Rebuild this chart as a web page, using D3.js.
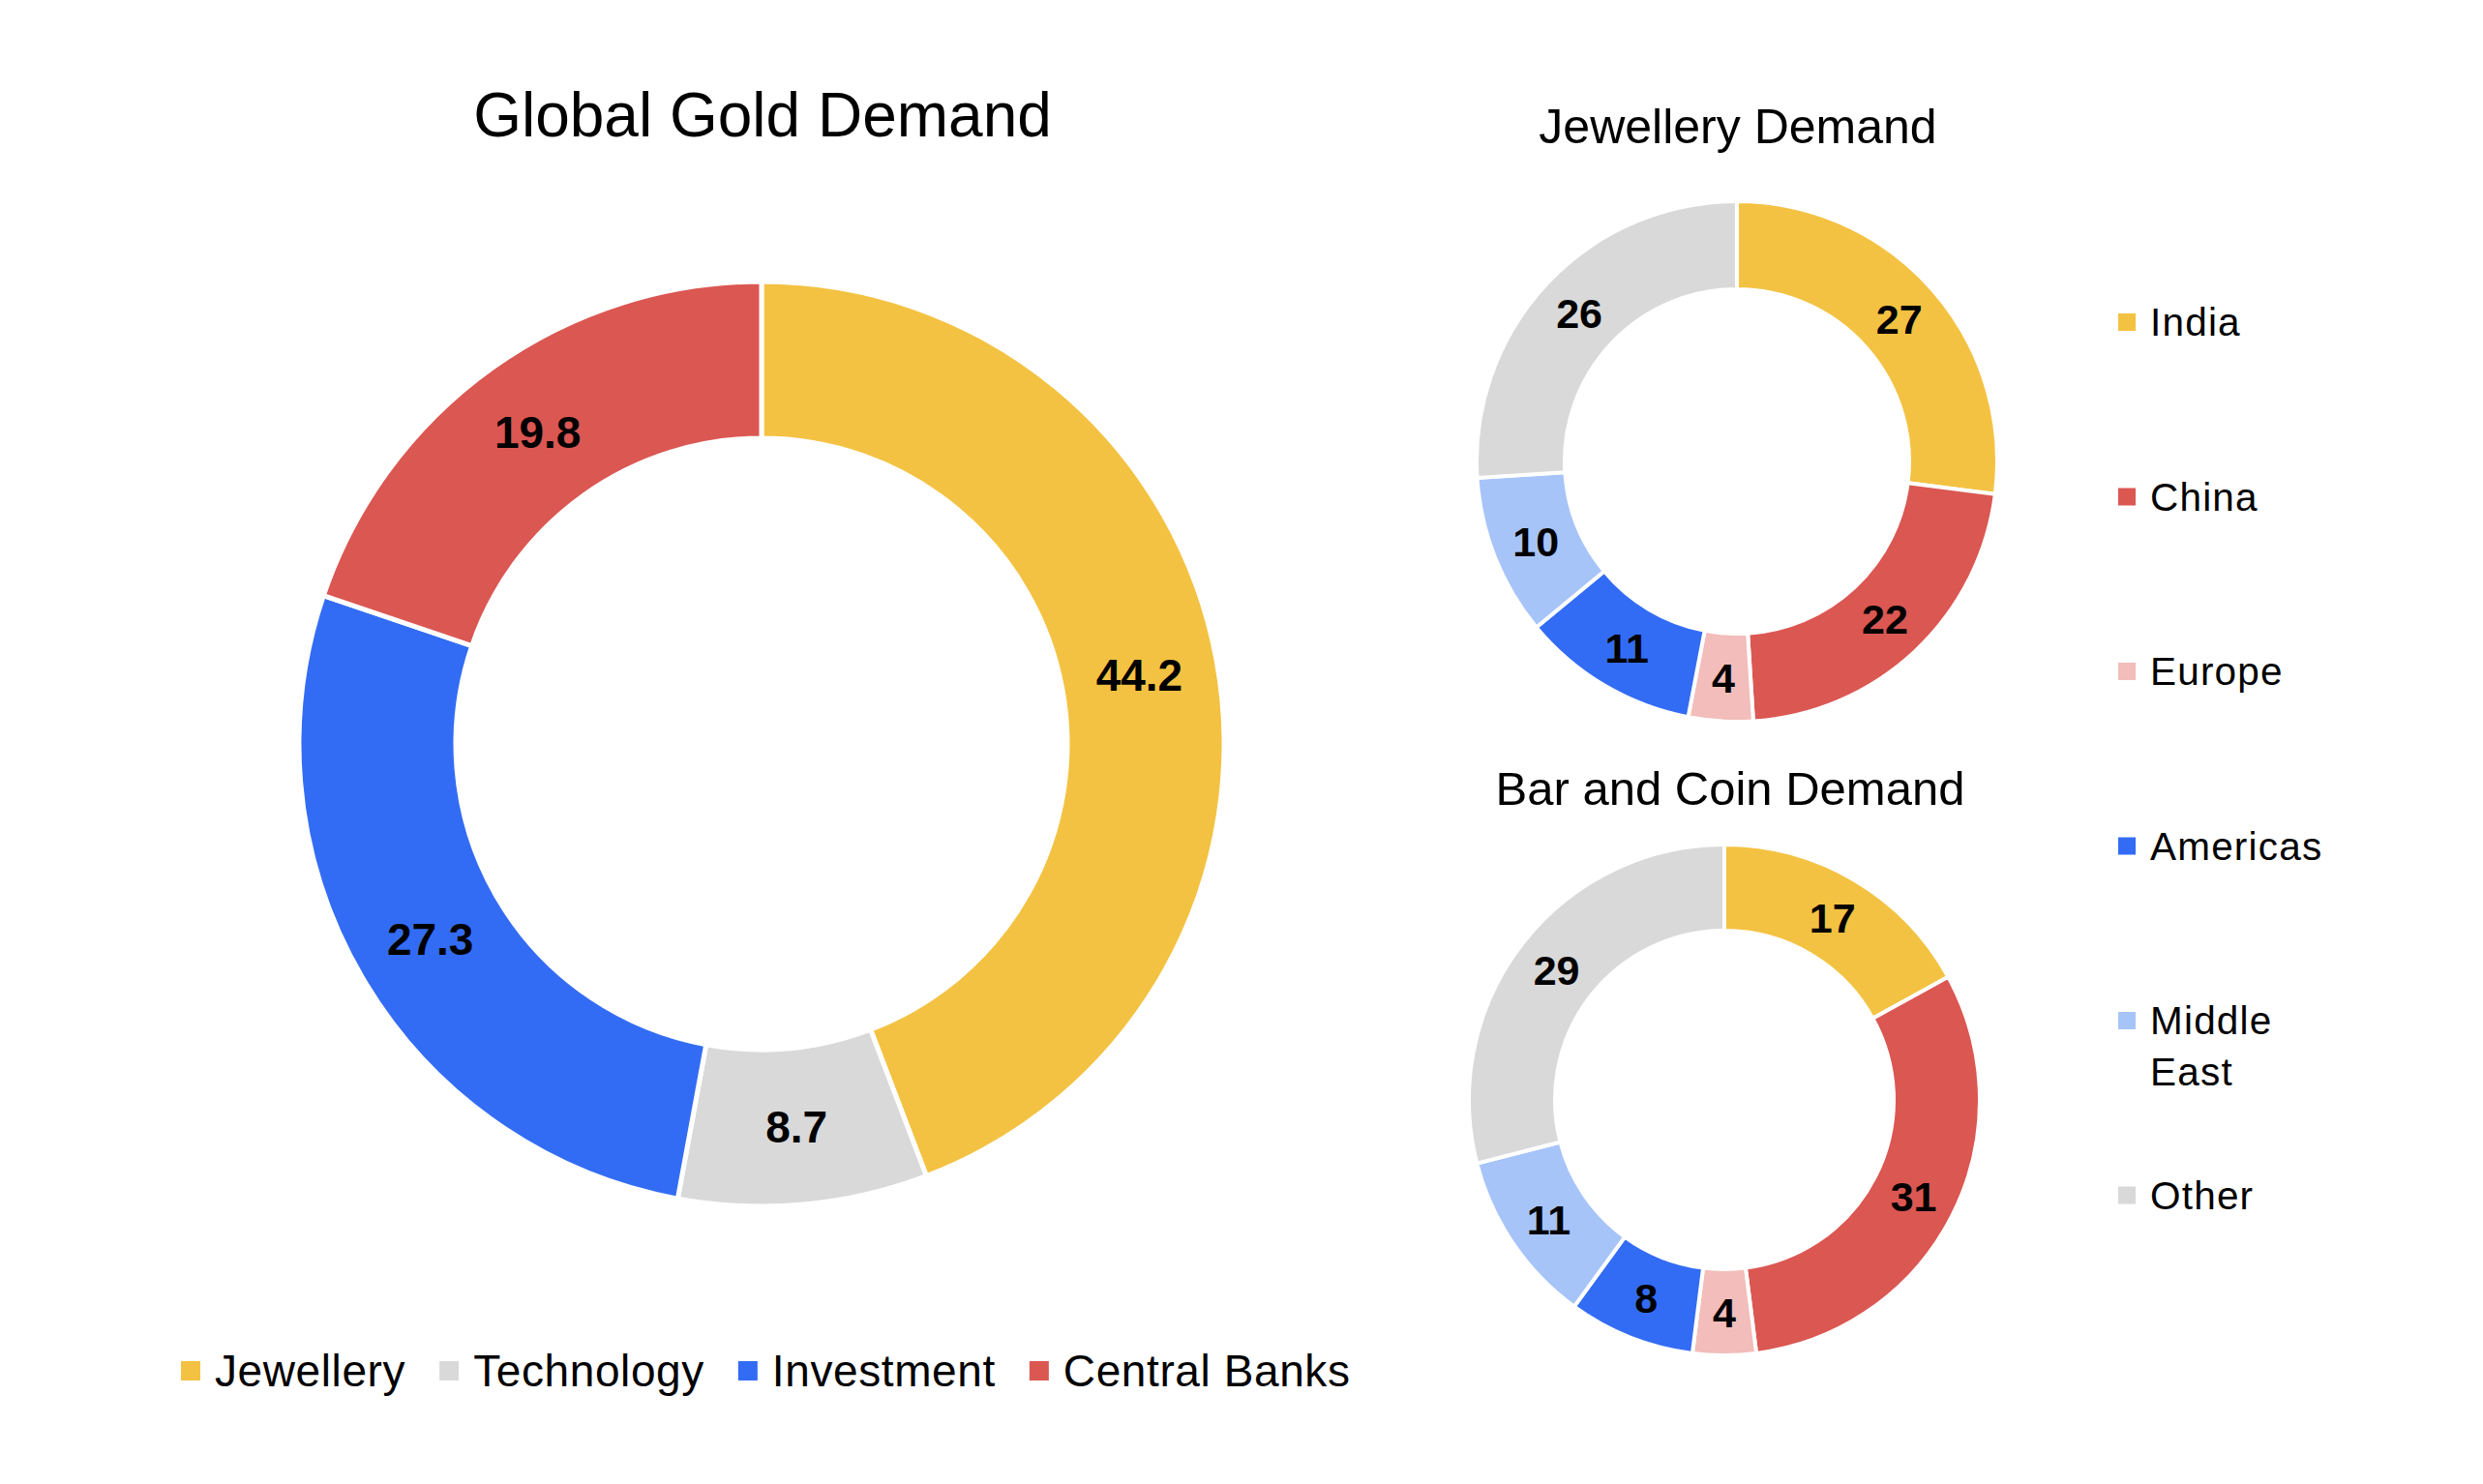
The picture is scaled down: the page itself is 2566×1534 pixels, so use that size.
<!DOCTYPE html>
<html>
<head>
<meta charset="utf-8">
<script src="https://cdn.jsdelivr.net/npm/d3@7"></script>
<style>
  html, body { margin: 0; padding: 0; background: #ffffff; }
  svg { display: block; }
</style>
</head>
<body>
<svg id="chart"></svg>
<script>
// ---------- DATA ----------
const demandCategories = ["Jewellery", "Technology", "Investment", "Central Banks"];
const demandValues = [44.2, 8.7, 27.3, 19.8];
const demandColors = ["#F4C242", "#D9D9D9", "#336CF4", "#DB5752"];

const regions = ["India", "China", "Europe", "Americas", "Middle East", "Other"];
const jewelleryValues = [27, 22, 4, 11, 10, 26];
const barCoinValues = [17, 31, 4, 8, 11, 29];
const regionColors = ["#F4C242", "#DB5752", "#F2BDBA", "#336CF4", "#A7C4F9", "#D9D9D9"];

const titles = ["Global Gold Demand", "Jewellery Demand", "Bar and Coin Demand"];

// ---------- SETUP ----------
const W = 2566, H = 1534;
const svg = d3.select("#chart").attr("width", W).attr("height", H);
svg.append("rect").attr("width", W).attr("height", H).attr("fill", "#ffffff");

const FONT = "'Liberation Sans', Arial, Helvetica, sans-serif";

function donut(values, colors, cx, cy, rOuter, rInner, fontSize, fmt, strokeW) {
  const pie = d3.pie().sort(null).value(d => d);
  const arcs = pie(values);
  const arc = d3.arc().innerRadius(rInner).outerRadius(rOuter);
  const labelArc = d3.arc().innerRadius((rInner + rOuter) / 2).outerRadius((rInner + rOuter) / 2);
  const g = svg.append("g").attr("transform", `translate(${cx},${cy})`);
  g.selectAll("path").data(arcs).join("path")
    .attr("d", arc)
    .attr("fill", (d, i) => colors[i])
    .attr("stroke", "#ffffff")
    .attr("stroke-width", strokeW)
    .attr("stroke-linejoin", "miter");
  g.selectAll("text").data(arcs).join("text")
    .attr("transform", d => `translate(${labelArc.centroid(d)})`)
    .attr("text-anchor", "middle")
    .attr("dy", "0.36em")
    .attr("font-family", FONT)
    .attr("font-weight", "bold")
    .attr("font-size", fontSize)
    .attr("fill", "#000000")
    .text(d => fmt(d.data));
}

// ---------- MAIN DONUT ----------
donut(demandValues, demandColors, 787, 769, 478, 316, 46, d3.format(".1f"), 5);

// ---------- SMALL DONUTS ----------
donut(jewelleryValues, regionColors, 1795, 477, 269, 178, 43, d3.format("d"), 4);
donut(barCoinValues, regionColors, 1782, 1137, 264, 175, 43, d3.format("d"), 4);

// ---------- TITLES ----------
const titleSpecs = [
  { x: 788, y: 141, size: 64 },
  { x: 1796, y: 148, size: 50 },
  { x: 1788, y: 832, size: 49 }
];
titles.forEach((t, i) => {
  svg.append("text")
    .attr("x", titleSpecs[i].x).attr("y", titleSpecs[i].y)
    .attr("text-anchor", "middle")
    .attr("font-family", FONT)
    .attr("font-size", titleSpecs[i].size)
    .attr("fill", "#000000")
    .text(t);
});

// ---------- BOTTOM LEGEND ----------
{
  let x = 187;
  const yC = 1417, sq = 20, legSize = 46;
  demandCategories.forEach((c, i) => {
    svg.append("rect").attr("x", x).attr("y", yC - sq / 2).attr("width", sq).attr("height", sq)
      .attr("fill", demandColors[i]);
    const t = svg.append("text")
      .attr("x", x + 35).attr("y", yC + 16)
      .attr("font-family", FONT).attr("font-size", legSize).attr("fill", "#000000")
      .attr("letter-spacing", 0.6)
      .text(c);
    const w = t.node().getComputedTextLength();
    x = x + 35 + w + 35;
  });
}

// ---------- RIGHT LEGEND ----------
{
  const x0 = 2189, sq = 18, size = 40.5, step = 180.5, y0 = 333;
  let extra = 0;
  regions.forEach((r, i) => {
    const yC = y0 + i * step + extra;
    svg.append("rect").attr("x", x0).attr("y", yC - sq / 2).attr("width", sq).attr("height", sq)
      .attr("fill", regionColors[i]);
    const words = r.split(" ");
    const t = svg.append("text")
      .attr("font-family", FONT).attr("font-size", size).attr("fill", "#000000")
      .attr("letter-spacing", 1.2);
    words.forEach((w, j) => {
      t.append("tspan").attr("x", x0 + 33).attr("y", yC + 14 + j * 53).text(w);
    });
  });
}
</script>
</body>
</html>
